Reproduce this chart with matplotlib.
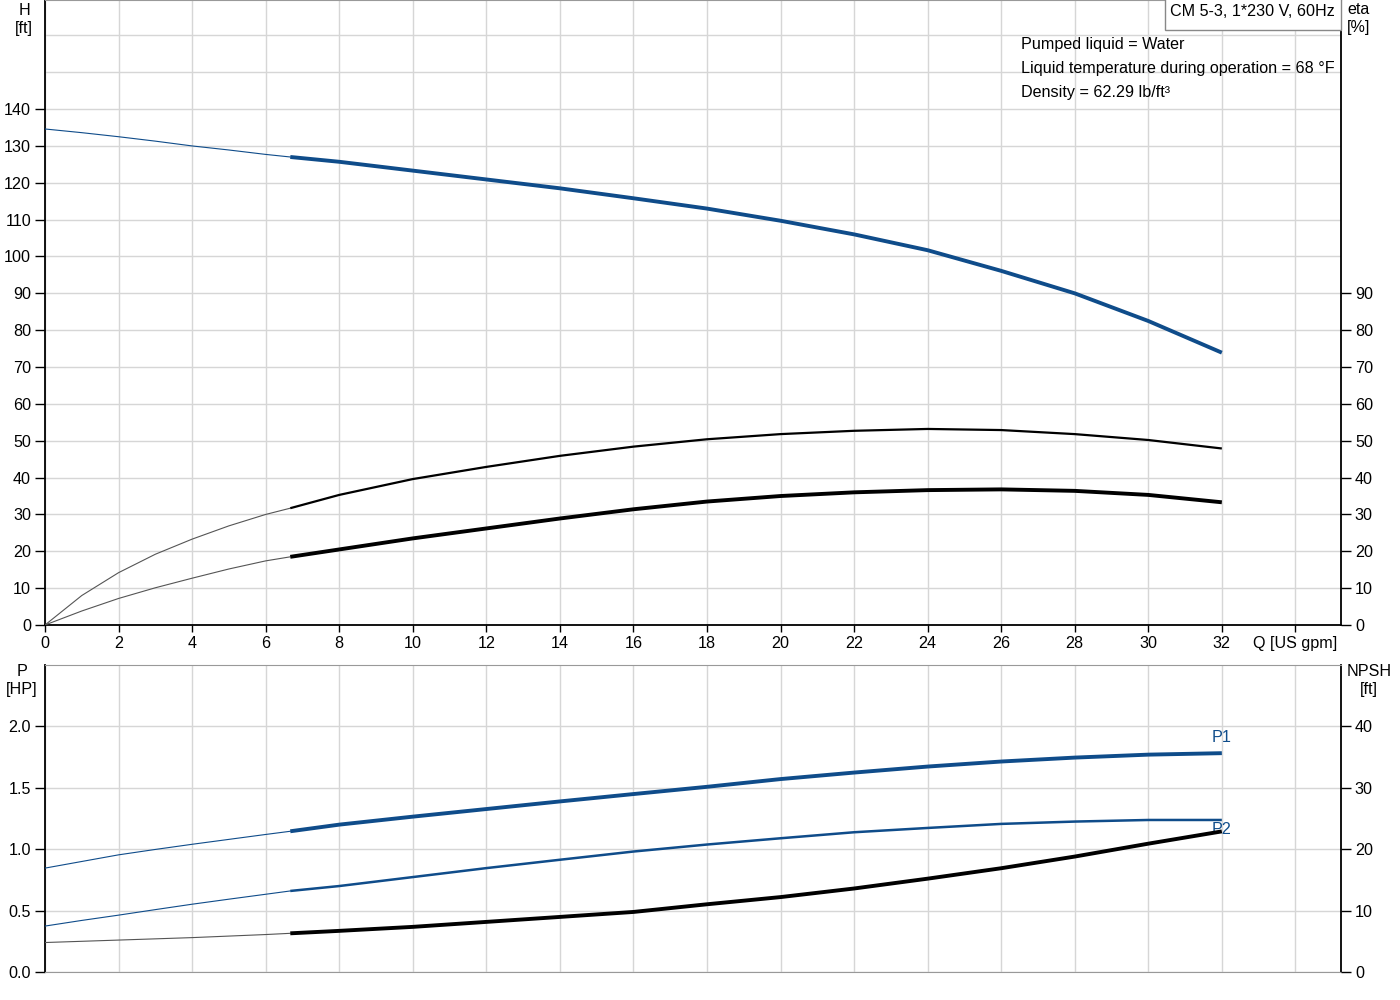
import matplotlib.pyplot as plt
from matplotlib.patches import Rectangle

plt.rcParams['font.family'] = ['Liberation Sans', 'DejaVu Sans']
plt.rcParams['font.size'] = 11.6

# Flow (US gpm); index 7 (6.67 gpm) is where the thin part ends
q = [0, 1, 2, 3, 4, 5, 6, 6.67, 8, 10, 12, 14, 16, 18, 20, 22, 24, 26, 28, 30, 32]
split = 7

# Head [ft]
head = [134.6, 133.6, 132.5, 131.3, 130.0, 128.9, 127.7, 127.0, 125.7, 123.3,
        120.9, 118.5, 115.8, 113.0, 109.7, 106.0, 101.7, 96.1, 90.0, 82.5, 73.9]
# Efficiencies [%]
eta_upper = [0, 8.0, 14.2, 19.2, 23.3, 26.9, 30.0, 31.7, 35.3, 39.6, 42.9,
             45.9, 48.4, 50.4, 51.8, 52.7, 53.2, 52.9, 51.8, 50.2, 47.9]
eta_lower = [0, 3.8, 7.2, 10.1, 12.7, 15.2, 17.4, 18.5, 20.5, 23.5, 26.2,
             28.9, 31.4, 33.5, 35.0, 36.0, 36.6, 36.8, 36.4, 35.3, 33.3]
# Power [HP]
p1 = [0.846, 0.90, 0.954, 0.998, 1.04, 1.08, 1.12, 1.146, 1.20, 1.265, 1.327,
      1.389, 1.449, 1.508, 1.571, 1.624, 1.673, 1.714, 1.746, 1.770, 1.782]
p2 = [0.374, 0.42, 0.463, 0.508, 0.552, 0.593, 0.633, 0.66, 0.70, 0.773, 0.846,
      0.914, 0.981, 1.038, 1.089, 1.138, 1.173, 1.206, 1.225, 1.238, 1.238]
# NPSH [ft]
npsh = [4.8, 5.0, 5.2, 5.4, 5.6, 5.85, 6.1, 6.3, 6.7, 7.35, 8.16, 8.97, 9.78,
        11.03, 12.2, 13.6, 15.2, 16.9, 18.8, 20.9, 22.9]

x_ticks = list(range(0, 35, 2))
x_labels = [str(t) for t in x_ticks[:-1]] + ['Q [US gpm]']

blue = '#0f4c8a'
grid_col = '#d6d6d6'

fig = plt.figure(figsize=(14, 10), dpi=100)
ax = fig.add_axes([45 / 1400, 0.375, 1296 / 1400, 0.625])
ax2 = fig.add_axes([45 / 1400, 0.028, 1296 / 1400, 0.307])


def thin_thick(axis, y, color, thin_color, lw):
    axis.plot(q[:split + 1], y[:split + 1], color=thin_color, lw=0.8, zorder=3)
    axis.plot(q[split:], y[split:], color=color, lw=lw, zorder=3,
              solid_capstyle='butt')


# ---- top chart: head and efficiency
thin_thick(ax, head, blue, blue, 2.8)
thin_thick(ax, eta_upper, 'black', '#555555', 1.6)
thin_thick(ax, eta_lower, 'black', '#555555', 2.8)

ax.set_xlim(0, 35.24)
ax.set_ylim(0, 169.6)
ax.set_xticks(x_ticks)
ax.set_xticklabels(x_labels)
ax.set_yticks(range(0, 150, 10))
ax.set_yticks([150, 160], minor=True)
ax.tick_params(axis='y', which='major', length=7, width=1, pad=3)
ax.tick_params(axis='y', which='minor', length=0)
ax.tick_params(axis='x', length=5, width=1, pad=3)
ax.grid(True, which='both', color=grid_col, lw=1)
ax.set_axisbelow(True)
for side in ['left', 'bottom', 'right']:
    ax.spines[side].set_color('black')
    ax.spines[side].set_linewidth(1.3)
ax.spines['top'].set_color('#999999')

axr = ax.twinx()
axr.set_ylim(0, 169.6)
axr.set_yticks(range(0, 100, 10))
axr.tick_params(axis='y', length=7, width=1, pad=3)
for s in axr.spines.values():
    s.set_visible(False)

# ---- bottom chart: power and NPSH
thin_thick(ax2, p1, blue, blue, 2.8)
thin_thick(ax2, p2, blue, blue, 1.8)
ax2.set_xlim(0, 35.24)
ax2.set_ylim(0, 2.5)
ax2.set_xticks(x_ticks)
ax2.set_xticklabels([])
ax2.tick_params(axis='x', length=0)
ax2.set_yticks([0, 0.5, 1.0, 1.5, 2.0])
ax2.set_yticklabels(['0.0', '0.5', '1.0', '1.5', '2.0'])
ax2.tick_params(axis='y', length=7, width=1, pad=3)
ax2.grid(True, color=grid_col, lw=1)
ax2.set_axisbelow(True)
ax2.spines['left'].set_color('black')
ax2.spines['left'].set_linewidth(1.3)
ax2.spines['right'].set_color('black')
ax2.spines['right'].set_linewidth(1.3)
ax2.spines['top'].set_color('#999999')
ax2.spines['bottom'].set_color('#999999')

ax2r = ax2.twinx()
ax2r.set_ylim(0, 50)
ax2r.set_yticks(range(0, 50, 10))
ax2r.tick_params(axis='y', length=7, width=1, pad=3)
for s in ax2r.spines.values():
    s.set_visible(False)
ax2r.plot(q[:split + 1], npsh[:split + 1], color='#555555', lw=0.8, zorder=3)
ax2r.plot(q[split:], npsh[split:], color='black', lw=2.8, zorder=3,
          solid_capstyle='butt')

ax2.text(q[-1], p1[-1] + 0.07, 'P1', color=blue, ha='center', va='bottom')
ax2.text(q[-1], p2[-1] - 0.02, 'P2', color=blue, ha='center', va='top')

# ---- axis captions
fig.text(24 / 1400, 0.997, 'H\n[ft]', ha='center', va='top', linespacing=1.25)
fig.text(1359 / 1400, 0.998, 'eta\n[%]', ha='center', va='top', linespacing=1.25)
fig.text(22 / 1400, 0.336, 'P\n[HP]', ha='center', va='top', linespacing=1.25)
fig.text(1369 / 1400, 0.336, 'NPSH\n[ft]', ha='center', va='top', linespacing=1.25)

# ---- title box and liquid info
fig.patches.append(Rectangle((1165 / 1400, 0.970), 176 / 1400, 0.032,
                             transform=fig.transFigure, facecolor='white',
                             edgecolor='#888888', lw=1, zorder=5))
fig.text(1170 / 1400, 0.988, 'CM 5-3, 1*230 V, 60Hz', ha='left', va='center',
         zorder=6)
info = ['Pumped liquid = Water',
        'Liquid temperature during operation = 68 °F',
        'Density = 62.29 lb/ft³']
for i, line in enumerate(info):
    fig.text(1021 / 1400, 0.956 - i * 0.024, line, ha='left', va='center')

fig.savefig('out.png', dpi=100)
